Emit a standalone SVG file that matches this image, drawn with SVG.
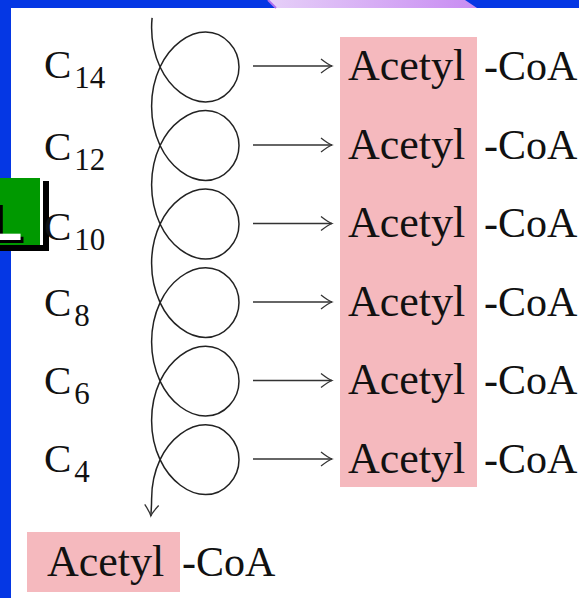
<svg xmlns="http://www.w3.org/2000/svg" width="579" height="598" viewBox="0 0 579 598">
<defs>
<linearGradient id="pg" x1="0" y1="0" x2="1" y2="0">
<stop offset="0" stop-color="#e6d0f8"/>
<stop offset="1" stop-color="#c88cf2"/>
</linearGradient>
<marker id="ah" viewBox="-13 -9 15 18" markerWidth="15" markerHeight="18" refX="0" refY="0" orient="auto" markerUnits="userSpaceOnUse">
<path d="M-11,-7 Q-4,-1.5 0,0 Q-4,1.5 -11,7" fill="none" stroke="#333" stroke-width="1.3"/>
</marker>
</defs>
<style>
.t{font-family:"Liberation Serif","Times New Roman",serif;fill:#111}
.a{font-size:44px}
.c{font-size:42px}
.lab{font-size:41px}
.sub{font-size:31px}
.arr{stroke:#333;stroke-width:1.4;fill:none;marker-end:url(#ah)}
.pink{fill:#f5b9be}
</style>
<rect width="579" height="598" fill="#ffffff"/>
<g id="frame">
<rect x="0" y="0" width="579" height="8" fill="#0537e4"/>
<rect x="0" y="0" width="11" height="598" fill="#0537e4"/>
<polygon points="268,0 465,0 477,8 276,8" fill="url(#pg)"/>
<line x1="268" y1="0" x2="276" y2="8" stroke="#b070ee" stroke-width="2"/>
</g>
<g id="green-tab">
<rect x="-10" y="181" width="59" height="70" fill="#000"/>
<rect x="-10" y="178" width="53" height="67" fill="#ffffff"/>
<rect x="-10" y="178" width="50" height="67" fill="#009900"/>
<text x="-9" y="243" font-family="Liberation Sans,Arial,sans-serif" font-weight="bold" font-size="56" fill="#000">L</text>
<text x="-12" y="240" font-family="Liberation Sans,Arial,sans-serif" font-weight="bold" font-size="56" fill="#ffffff">L</text>
</g>
<g id="labels">
<text class="t lab" x="44" y="78">C<tspan class="sub" dx="3" dy="10">14</tspan></text>
<text class="t lab" x="44" y="160">C<tspan class="sub" dx="3" dy="10">12</tspan></text>
<text class="t lab" x="44" y="240">C<tspan class="sub" dx="3" dy="10">10</tspan></text>
<text class="t lab" x="44" y="316">C<tspan class="sub" dx="3" dy="10">8</tspan></text>
<text class="t lab" x="44" y="394">C<tspan class="sub" dx="3" dy="10">6</tspan></text>
<text class="t lab" x="44" y="472">C<tspan class="sub" dx="3" dy="10">4</tspan></text>
</g>
<g id="acetyl-column">
<rect class="pink" x="340" y="37" width="137" height="450"/>
<text class="t a" x="348" y="80">Acetyl</text>
<text class="t a" x="348" y="158.5">Acetyl</text>
<text class="t a" x="348" y="237">Acetyl</text>
<text class="t a" x="348" y="315.5">Acetyl</text>
<text class="t a" x="348" y="394">Acetyl</text>
<text class="t a" x="348" y="472.5">Acetyl</text>
<text class="t c" x="484" y="80">-CoA</text>
<text class="t c" x="484" y="158.5">-CoA</text>
<text class="t c" x="484" y="237">-CoA</text>
<text class="t c" x="484" y="315.5">-CoA</text>
<text class="t c" x="484" y="394">-CoA</text>
<text class="t c" x="484" y="472.5">-CoA</text>
</g>
<g id="final-acetyl">
<rect class="pink" x="27" y="532" width="153" height="60"/>
<text class="t a" x="47" y="576">Acetyl</text>
<text class="t c" x="182" y="576">-CoA</text>
</g>
<g id="connectors">
<path d="M152.1,17.9 C151.77,21.15 151.6,24.42 151.6,27.7
c0,13.81 3.03,27.61 8.46,39.25 c10.12,21.70 28.86,34.97 45.52,34.97 c18.87,0 33.42,-16.91 33.42,-34.95 c0,-18.04 -14.55,-34.94 -33.42,-34.94 c-16.66,0 -35.40,13.26 -45.52,34.96 c-5.43,11.64 -8.46,25.44 -8.46,39.25
c0,13.81 3.03,27.61 8.46,39.25 c10.12,21.70 28.86,34.97 45.52,34.97 c18.87,0 33.42,-16.91 33.42,-34.95 c0,-18.04 -14.55,-34.94 -33.42,-34.94 c-16.66,0 -35.40,13.26 -45.52,34.96 c-5.43,11.64 -8.46,25.44 -8.46,39.25
c0,13.81 3.03,27.61 8.46,39.25 c10.12,21.70 28.86,34.97 45.52,34.97 c18.87,0 33.42,-16.91 33.42,-34.95 c0,-18.04 -14.55,-34.94 -33.42,-34.94 c-16.66,0 -35.40,13.26 -45.52,34.96 c-5.43,11.64 -8.46,25.44 -8.46,39.25
c0,13.81 3.03,27.61 8.46,39.25 c10.12,21.70 28.86,34.97 45.52,34.97 c18.87,0 33.42,-16.91 33.42,-34.95 c0,-18.04 -14.55,-34.94 -33.42,-34.94 c-16.66,0 -35.40,13.26 -45.52,34.96 c-5.43,11.64 -8.46,25.44 -8.46,39.25
c0,13.81 3.03,27.61 8.46,39.25 c10.12,21.70 28.86,34.97 45.52,34.97 c18.87,0 33.42,-16.91 33.42,-34.95 c0,-18.04 -14.55,-34.94 -33.42,-34.94 c-16.66,0 -35.40,13.26 -45.52,34.96 c-5.43,11.64 -8.46,25.44 -8.46,39.25
c0,13.81 3.03,27.61 8.46,39.25 c10.12,21.70 28.86,34.97 45.52,34.97 c18.87,0 33.42,-16.91 33.42,-34.95 c0,-18.04 -14.55,-34.94 -33.42,-34.94 c-16.66,0 -35.40,13.26 -45.52,34.96 c-5.43,11.64 -8.46,25.44 -8.46,39.25
c0,6 -0.3,11 -0.8,17" fill="none" stroke="#222" stroke-width="1.5" marker-end="url(#ah)"/>
<line class="arr" x1="253" y1="66" x2="332" y2="66"/>
<line class="arr" x1="253" y1="145" x2="332" y2="145"/>
<line class="arr" x1="253" y1="223.5" x2="332" y2="223.5"/>
<line class="arr" x1="253" y1="302" x2="332" y2="302"/>
<line class="arr" x1="253" y1="380.5" x2="332" y2="380.5"/>
<line class="arr" x1="253" y1="459" x2="332" y2="459"/>
</g>
</svg>
